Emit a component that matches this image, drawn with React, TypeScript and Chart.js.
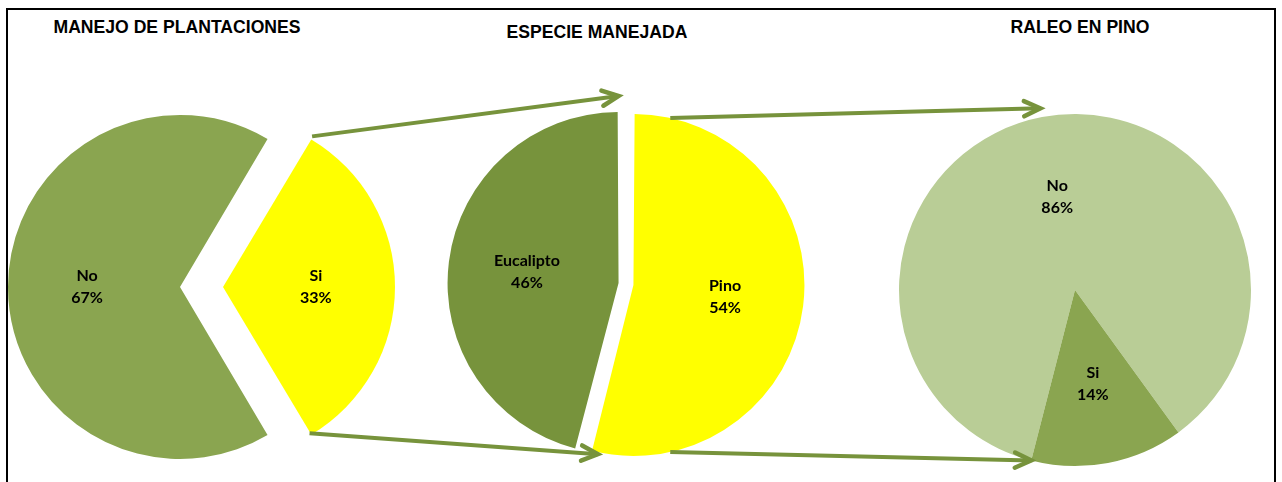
import React, { useEffect, useRef } from 'react';
import { Chart, registerables } from 'chart.js';

Chart.register(...registerables);

// ---- data ----
const plantLabels = ['Si', 'No'];
const plantValues = [33, 67];
const speciesLabels = ['Pino', 'Eucalipto'];
const speciesValues = [54, 46];
const thinLabels = ['No', 'Si'];
const thinValues = [86, 14];
const chartTitles = ['MANEJO DE PLANTACIONES', 'ESPECIE MANEJADA', 'RALEO EN PINO'];

// ---- styles ----
const GREEN = '#8AA550';
const DARK_GREEN = '#77933C';
const LIGHT_GREEN = '#B9CD96';
const YELLOW = '#FFFF00';
const ARROW = '#77933C';
const LABEL_FONT = 'bold 16px Lato';

type PieSpec = {
  left: number;
  top: number;
  size: [number, number];
  radius: number;
  rotation: number;
  labels: string[];
  values: number[];
  colors: string[];
  offsets: number[];
};

const sum = (a: number[]) => a.reduce((s, v) => s + v, 0);

const pies: PieSpec[] = [
  {
    left: -40, top: 107, size: [440, 360], radius: 172,
    rotation: 90 - (plantValues[0] / sum(plantValues)) * 180,
    labels: plantLabels, values: plantValues,
    colors: [YELLOW, GREEN], offsets: [172, 0],
  },
  {
    left: 443, top: 101, size: [366, 366], radius: 171,
    rotation: 0,
    labels: speciesLabels, values: speciesValues,
    colors: [YELLOW, DARK_GREEN], offsets: [30, 30],
  },
  {
    left: 893, top: 108, size: [364, 364], radius: 176,
    rotation: 194.4,
    labels: thinLabels, values: thinValues,
    colors: [LIGHT_GREEN, GREEN], offsets: [0, 0],
  },
];

const titlePos = [
  { x: 177, y: 27 },
  { x: 597, y: 32 },
  { x: 1080, y: 27 },
];

function arcGeom(arc: any) {
  const off = (arc.options.offset || 0) / 4;
  const mid = (arc.startAngle + arc.endAngle) / 2;
  const cx = arc.x + Math.cos(mid) * off;
  const cy = arc.y + Math.sin(mid) * off;
  const R = arc.$baseR ?? arc.outerRadius;
  return { cx, cy, R, mid };
}

const slicePlugin = {
  id: 'sliceLabels',
  beforeDatasetsDraw(chart: any) {
    const meta = chart.getDatasetMeta(0);
    meta.data.forEach((arc: any) => {
      if (arc.$baseR === undefined) arc.$baseR = arc.outerRadius;
      const off = (arc.options.offset || 0) / 4;
      const fix = 1 - Math.sin(Math.min(Math.PI, arc.endAngle - arc.startAngle));
      arc.outerRadius = arc.$baseR - off * fix;
    });
  },
  afterDatasetsDraw(chart: any) {
    const meta = chart.getDatasetMeta(0);
    const ctx = chart.ctx;
    const ds = chart.data.datasets[0];
    const total = sum(ds.data as number[]);
    ctx.save();
    ctx.font = LABEL_FONT;
    ctx.fillStyle = '#000';
    ctx.textAlign = 'center';
    ctx.textBaseline = 'middle';
    meta.data.forEach((arc: any, i: number) => {
      const { cx, cy, R, mid } = arcGeom(arc);
      const lx = cx + Math.cos(mid) * R * 0.54;
      const ly = cy + Math.sin(mid) * R * 0.54;
      const pct = Math.round(((ds.data[i] as number) / total) * 100) + '%';
      ctx.fillText(String(chart.data.labels[i]), lx, ly - 11);
      ctx.fillText(pct, lx, ly + 11);
    });
    ctx.restore();
  },
};

export default function App() {
  const canvasRefs = [useRef<HTMLCanvasElement>(null), useRef<HTMLCanvasElement>(null), useRef<HTMLCanvasElement>(null)];
  const overlayRef = useRef<HTMLCanvasElement>(null);

  useEffect(() => {
    const charts: Chart[] = pies.map((p, k) => {
      const canvas = canvasRefs[k].current!;
      return new Chart(canvas, {
        type: 'pie',
        data: {
          labels: p.labels,
          datasets: [
            {
              data: p.values,
              backgroundColor: p.colors,
              borderWidth: 0,
              offset: p.offsets,
            } as any,
          ],
        },
        options: {
          animation: false,
          responsive: false,
          events: [],
          radius: p.radius,
          rotation: p.rotation,
          layout: { padding: 0 },
          plugins: {
            legend: { display: false },
            tooltip: { enabled: false },
            title: { display: false },
          },
        } as any,
        plugins: [slicePlugin],
      });
    });

    // arrows, anchored to slice geometry
    const overlay = overlayRef.current!;
    const ctx = overlay.getContext('2d')!;
    ctx.clearRect(0, 0, overlay.width, overlay.height);

    const arcPoint = (ci: number, idx: number, frac: number, extra: number): [number, number] => {
      const arc: any = charts[ci].getDatasetMeta(0).data[idx];
      const { cx, cy, R } = arcGeom(arc);
      const a = arc.startAngle + frac * (arc.endAngle - arc.startAngle);
      return [cx + Math.cos(a) * (R + extra) + pies[ci].left, cy + Math.sin(a) * (R + extra) + pies[ci].top];
    };

    const arrows: [[number, number], [number, number]][] = [
      [arcPoint(0, 0, 0, 3), arcPoint(1, 1, 1, 16)],
      [arcPoint(0, 0, 1, -2), arcPoint(1, 0, 0.987, 2)],
      [arcPoint(1, 0, 0.064, 0), arcPoint(2, 0, 0.5, 9)],
      [arcPoint(1, 0, 0.862, 0), arcPoint(2, 1, 1, 0)],
    ];

    ctx.strokeStyle = ARROW;
    arrows.forEach(([s, e]) => {
      ctx.lineWidth = 4;
      ctx.lineCap = 'butt';
      ctx.beginPath();
      ctx.moveTo(s[0], s[1]);
      ctx.lineTo(e[0], e[1]);
      ctx.stroke();
      const ang = Math.atan2(e[1] - s[1], e[0] - s[0]);
      const L = 18;
      const spread = (25 * Math.PI) / 180;
      ctx.lineWidth = 4.5;
      ctx.lineCap = 'round';
      ctx.lineJoin = 'miter';
      ctx.beginPath();
      ctx.moveTo(e[0] - Math.cos(ang - spread) * L, e[1] - Math.sin(ang - spread) * L);
      ctx.lineTo(e[0], e[1]);
      ctx.lineTo(e[0] - Math.cos(ang + spread) * L, e[1] - Math.sin(ang + spread) * L);
      ctx.stroke();
    });

    return () => {
      charts.forEach((c) => c.destroy());
    };
  }, []);

  return (
    <div
      style={{
        position: 'fixed',
        left: 0,
        top: 0,
        width: 1282,
        height: 482,
        background: '#fff',
        overflow: 'hidden',
      }}
    >
      <div
        style={{
          position: 'absolute',
          left: 6,
          top: 8,
          width: 1270,
          height: 520,
          border: '2px solid #000',
          boxSizing: 'border-box',
        }}
      />
      {chartTitles.map((t, i) => (
        <div
          key={t}
          style={{
            position: 'absolute',
            left: titlePos[i].x,
            top: titlePos[i].y - 10,
            transform: 'translateX(-50%)',
            whiteSpace: 'nowrap',
            font: 'bold 17.6px "Liberation Sans", Arial, sans-serif',
            lineHeight: '20px',
            color: '#000',
          }}
        >
          {t}
        </div>
      ))}
      {pies.map((p, k) => (
        <canvas
          key={k}
          ref={canvasRefs[k]}
          width={p.size[0]}
          height={p.size[1]}
          style={{
            position: 'absolute',
            left: p.left,
            top: p.top,
            width: p.size[0],
            height: p.size[1],
          }}
        />
      ))}
      <canvas
        ref={overlayRef}
        width={1282}
        height={482}
        style={{ position: 'absolute', left: 0, top: 0, width: 1282, height: 482, pointerEvents: 'none' }}
      />
    </div>
  );
}
